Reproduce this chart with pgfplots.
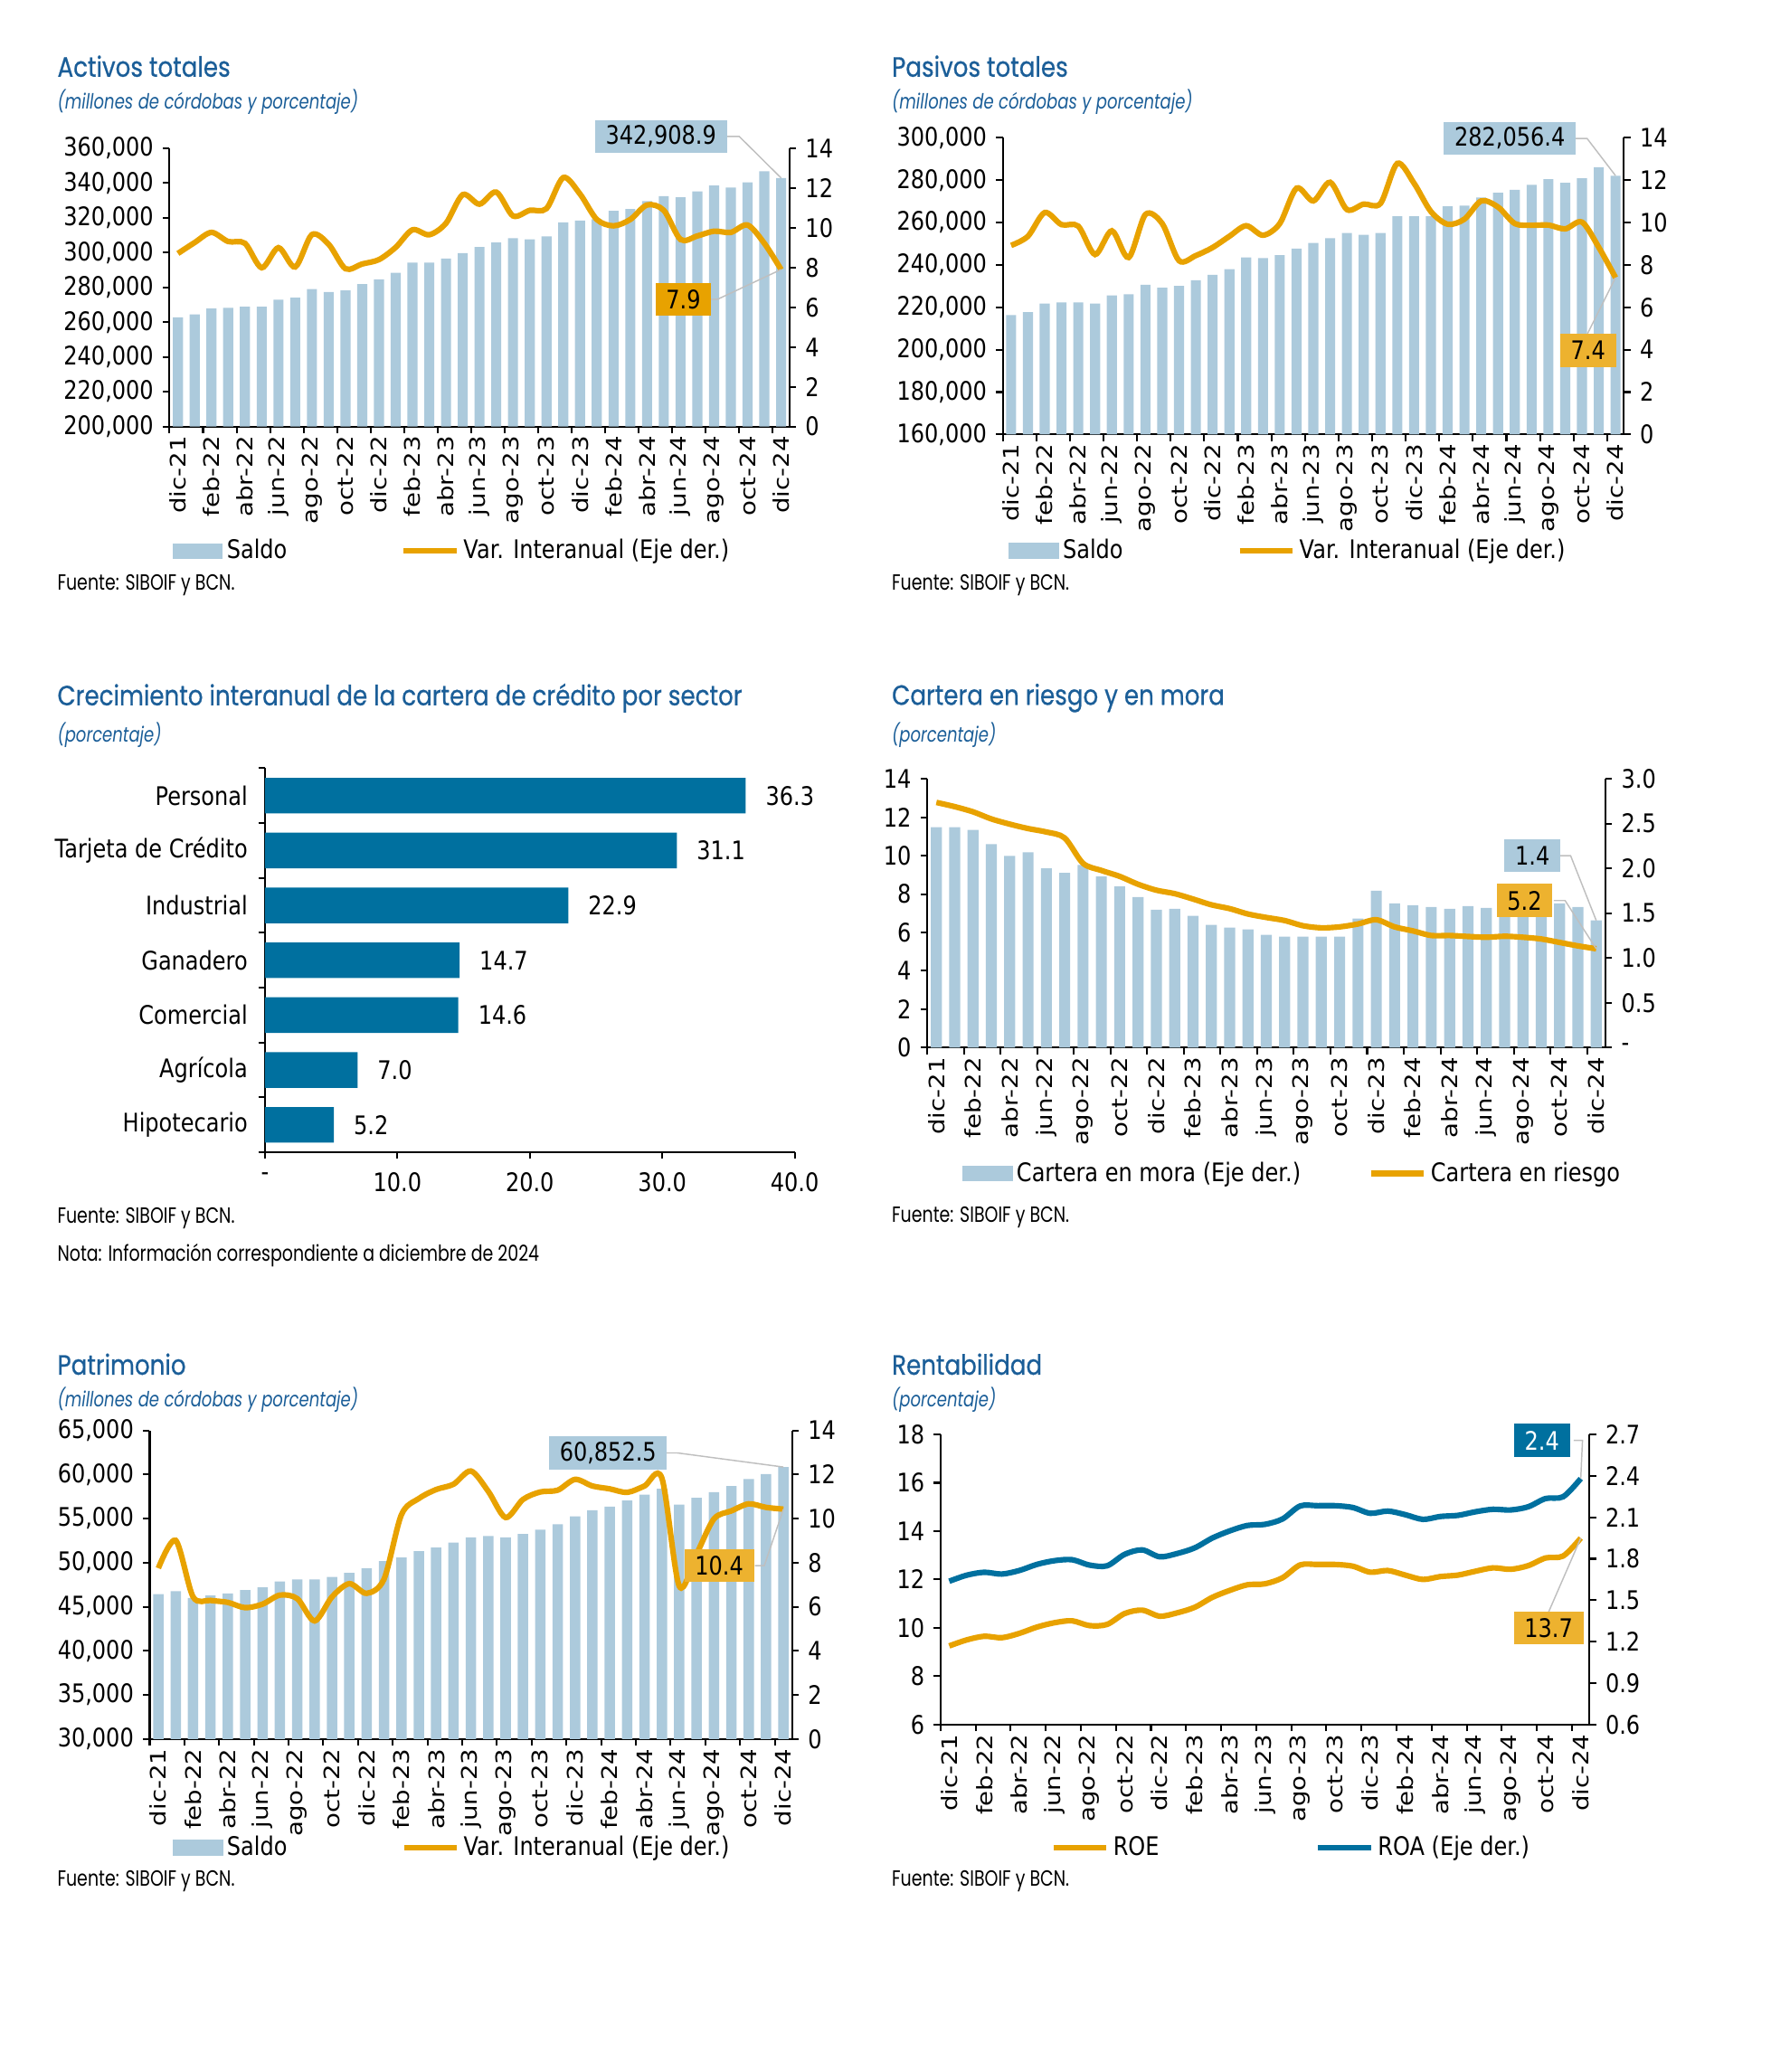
\documentclass[border=0pt]{standalone}
\usepackage{fontspec}
\setmainfont{DejaVu Sans}
\newfontfamily\dvs{DejaVu Sans}[FakeStretch=0.85]
\newfontfamily\dvw{DejaVu Sans}[FakeStretch=1.17]
\newfontfamily\tf{Poppins}[FakeStretch=0.78]
\newfontfamily\tfb{Poppins}[FakeStretch=0.85, FakeBold=0.6]
\usepackage{pgfplots}
\usepackage{pgfplotstable}
\pgfplotsset{compat=1.18}

\definecolor{lblue}{HTML}{ACCADC}
\definecolor{gold}{HTML}{E8A200}
\definecolor{goldbox}{HTML}{EDB22F}
\definecolor{dblue}{HTML}{00709F}
\definecolor{tblue}{HTML}{1B5E98}
\definecolor{lead}{HTML}{BFBFBF}

\newcommand{\tkfont}{\dvs\fontsize{9.65}{11}\selectfont}
\newcommand{\rotfont}{\dvw\fontsize{8.05}{10}\selectfont}
\newcommand{\titfont}{\tfb\fontsize{10.5}{12}\selectfont}
\newcommand{\subfont}{\tf\itshape\fontsize{7.9}{9}\selectfont}
\newcommand{\srcfont}{\tf\fontsize{8.3}{9}\selectfont}

% x, saldo, variacion interanual
\pgfplotstableread{
x s v
0 262800 8.71
1 264500 9.26
2 267800 9.77
3 268200 9.31
4 268900 9.22
5 268900 7.99
6 272900 9.00
7 274100 8.03
8 279000 9.66
9 277300 9.17
10 278300 7.94
11 281900 8.18
12 284600 8.40
13 288400 9.02
14 294300 9.90
15 294300 9.65
16 296600 10.23
17 299700 11.67
18 303300 11.19
19 305800 11.80
20 308300 10.60
21 307700 10.88
22 309400 10.97
23 317400 12.53
24 318400 11.70
25 319300 10.42
26 324100 10.10
27 325100 10.42
28 329600 11.15
29 332500 10.88
30 331900 9.41
31 335200 9.59
32 338600 9.83
33 337500 9.77
34 340500 10.14
35 346800 9.22
36 342908.9 7.90
}\activos

\pgfplotstableread{
x s v
0 216300 8.92
1 217700 9.35
2 221800 10.47
3 222300 9.90
4 222300 9.83
5 221800 8.49
6 225600 9.61
7 226100 8.35
8 230600 10.38
9 229200 9.95
10 230100 8.20
11 232800 8.44
12 235300 8.82
13 238000 9.35
14 243500 9.85
15 243200 9.40
16 244600 9.95
17 247700 11.62
18 250400 11.02
19 252600 11.90
20 255100 10.61
21 254200 10.87
22 255100 10.90
23 263000 12.79
24 263000 11.85
25 263000 10.52
26 267600 9.92
27 268000 10.16
28 271800 11.02
29 274000 10.73
30 275400 9.95
31 277800 9.87
32 280500 9.88
33 278700 9.70
34 280900 10.02
35 286100 8.83
36 282056.4 7.40
}\pasivos

% x, mora (eje der.), riesgo
\pgfplotstableread{
x m r
0 2.46 12.77
1 2.46 12.55
2 2.43 12.28
3 2.27 11.91
4 2.14 11.64
5 2.18 11.41
6 2.00 11.23
7 1.95 10.92
8 2.04 9.60
9 1.91 9.23
10 1.80 8.92
11 1.68 8.51
12 1.54 8.20
13 1.55 8.02
14 1.47 7.74
15 1.37 7.44
16 1.34 7.24
17 1.32 6.96
18 1.26 6.78
19 1.24 6.62
20 1.24 6.35
21 1.24 6.24
22 1.24 6.29
23 1.44 6.44
24 1.75 6.66
25 1.61 6.29
26 1.59 6.08
27 1.57 5.84
28 1.55 5.84
29 1.58 5.79
30 1.56 5.75
31 1.56 5.80
32 1.58 5.75
33 1.58 5.66
34 1.61 5.48
35 1.57 5.30
36 1.42 5.15
}\cartera

\pgfplotstableread{
x s v
0 46440 7.75
1 46770 9.01
2 46000 6.45
3 46280 6.29
4 46520 6.20
5 46890 5.96
6 47210 6.12
7 47860 6.53
8 48110 6.37
9 48110 5.36
10 48390 6.45
11 48840 7.05
12 49370 6.61
13 50180 7.26
14 50590 10.18
15 51320 10.91
16 51720 11.32
17 52290 11.56
18 52860 12.16
19 53020 11.24
20 52860 10.05
21 53260 10.87
22 53750 11.21
23 54360 11.29
24 55250 11.78
25 55940 11.48
26 56350 11.35
27 57040 11.19
28 57730 11.48
29 58380 11.84
30 56590 6.94
31 57370 8.40
32 58010 9.99
33 58700 10.35
34 59480 10.67
35 60040 10.51
36 60852.5 10.43
}\patrimonio

% x, ROE, ROA (eje der.)
\pgfplotstableread{
x roe roa
0 9.25 1.637
1 9.50 1.681
2 9.65 1.702
3 9.59 1.689
4 9.77 1.715
5 10.03 1.759
6 10.21 1.786
7 10.29 1.793
8 10.09 1.754
9 10.14 1.749
10 10.59 1.832
11 10.73 1.864
12 10.48 1.814
13 10.62 1.838
14 10.85 1.879
15 11.26 1.950
16 11.55 2.002
17 11.78 2.041
18 11.82 2.049
19 12.07 2.088
20 12.60 2.182
21 12.62 2.184
22 12.62 2.184
23 12.55 2.171
24 12.30 2.129
25 12.37 2.145
26 12.18 2.119
27 12.00 2.085
28 12.12 2.106
29 12.18 2.114
30 12.34 2.140
31 12.48 2.158
32 12.42 2.153
33 12.57 2.176
34 12.89 2.236
35 12.97 2.249
36 13.71 2.380
}\rentab

\pgfplotsset{
  every axis/.append style={
    scale only axis, anchor=south west,
    font=\tkfont,
    axis line style={black, line width=0.7pt},
    tick style={black, line width=0.7pt},
    tick align=outside,
    major tick length=2.5pt,
    /pgf/number format/assume math mode=true,
  },
  months/.style={
    xmin=-0.5, xmax=36.5,
    xtick={-0.5,1.5,...,35.5}, xticklabels={},
    extra x ticks={0,2,...,36},
    extra x tick labels={dic-21,feb-22,abr-22,jun-22,ago-22,oct-22,dic-22,feb-23,abr-23,jun-23,ago-23,oct-23,dic-23,feb-24,abr-24,jun-24,ago-24,oct-24,dic-24},
    extra x tick style={major tick length=0pt},
    xticklabel style={rotate=90, anchor=east, inner xsep=3.5pt, font=\rotfont},
  },
  big/.style={scaled y ticks=false,
    yticklabel style={/pgf/number format/.cd, fixed, 1000 sep={,}}},
  lft/.style={axis x line*=bottom, axis y line*=left},
  rgt/.style={axis x line=none, axis y line*=right, clip=false},
  barleg/.style={legend image code/.code={\fill[##1] (0pt,-3pt) rectangle (19pt,3pt);}},
  linleg/.style={legend image code/.code={\draw[##1] (0pt,0pt) -- (20pt,0pt);}},
  gline/.style={gold, line width=2.1pt, smooth},
  leg/.style 2 args={legend columns=2, legend cell align=left,
    legend style={draw=none, fill=none, at={#1}, anchor=west, inner sep=0pt, font=\tkfont,
      nodes={inner xsep=1.5pt},
      /tikz/every odd column/.append style={column sep=0pt},
      /tikz/every even column/.append style={column sep=#2}}},
}
\tikzset{
  box/.style={font=\tkfont, inner xsep=4pt, inner ysep=0pt, minimum height=12.5pt, text=black},
  ld/.style={lead, line width=0.5pt},
  txt/.style={anchor=west, inner sep=0pt},
}

\begin{document}
\begin{tikzpicture}
\path (0pt,0pt) rectangle (668.5pt,-782.2pt);

% ---------------- Activos totales
\node[txt, text=tblue, font=\titfont] at (21.5pt,-25pt) {Activos totales};
\node[txt, text=tblue, font=\subfont] at (21.5pt,-38.5pt) {(millones de córdobas y porcentaje)};
\node[txt, font=\srcfont] at (21.5pt,-221pt) {Fuente: SIBOIF y BCN.};
\begin{axis}[at={(64pt,-161pt)}, width=234pt, height=105pt, months, lft, big,
    ymin=200000, ymax=360000, ytick={200000,220000,...,360000},
    leg={(0.004,-0.448)}{41.5pt}]
  \addplot[ybar, bar width=0.6, fill=lblue, draw=none, barleg] table[x=x, y=s] {\activos};
  \addlegendentry{Saldo}
  \addlegendimage{gline, linleg}
  \addlegendentry{Var. Interanual (Eje der.)}
\end{axis}
\begin{axis}[at={(64pt,-161pt)}, width=234pt, height=105pt, rgt,
    xmin=-0.5, xmax=36.5, ymin=0, ymax=14, ytick={0,2,...,14}]
  \addplot[gline] table[x=x, y=v] {\activos};
  \draw[ld] (axis cs:32.7,14.6) -- (axis cs:33.5,14.6) -- (axis cs:36,12.51);
  \draw[ld] (axis cs:31.8,6.4) -- (axis cs:32.2,6.4) -- (axis cs:36,7.9);
  \node[box, fill=lblue] at (axis cs:28.83,14.6) {342,908.9};
  \node[box, fill=gold] at (axis cs:30.17,6.4) {7.9};
\end{axis}

% ---------------- Pasivos totales
\node[txt, text=tblue, font=\titfont] at (336.5pt,-25pt) {Pasivos totales};
\node[txt, text=tblue, font=\subfont] at (336.5pt,-38.5pt) {(millones de córdobas y porcentaje)};
\node[txt, font=\srcfont] at (336.5pt,-221pt) {Fuente: SIBOIF y BCN.};
\begin{axis}[at={(378.5pt,-164pt)}, width=234.5pt, height=112pt, months, lft, big,
    ymin=160000, ymax=300000, ytick={160000,180000,...,300000},
    leg={(0.0085,-0.393)}{41.5pt}]
  \addplot[ybar, bar width=0.6, fill=lblue, draw=none, barleg] table[x=x, y=s] {\pasivos};
  \addlegendentry{Saldo}
  \addlegendimage{gline, linleg}
  \addlegendentry{Var. Interanual (Eje der.)}
\end{axis}
\begin{axis}[at={(378.5pt,-164pt)}, width=234.5pt, height=112pt, rgt,
    xmin=-0.5, xmax=36.5, ymin=0, ymax=14, ytick={0,2,...,14}]
  \addplot[gline] table[x=x, y=v] {\pasivos};
  \draw[ld] (axis cs:33.41,13.97) -- (axis cs:34.3,13.97) -- (axis cs:36,12.21);
  \draw[ld] (axis cs:34.33,4.75) -- (axis cs:36,7.4);
  \node[box, fill=lblue] at (axis cs:29.7,13.97) {282,056.4};
  \node[box, fill=goldbox] at (axis cs:34.36,3.97) {7.4};
\end{axis}

% ---------------- Crecimiento por sector
\node[txt, text=tblue, font=\titfont] at (21.5pt,-263.5pt) {Crecimiento interanual de la cartera de crédito por sector};
\node[txt, text=tblue, font=\subfont] at (21.5pt,-277.5pt) {(porcentaje)};
\node[txt, font=\srcfont] at (21.5pt,-460pt) {Fuente: SIBOIF y BCN.};
\node[txt, font=\srcfont] at (21.5pt,-474pt) {Nota: Información correspondiente a diciembre de 2024};
\begin{axis}[at={(100pt,-435pt)}, width=200pt, height=145pt, lft, clip=false,
    xmin=0, xmax=40, ymin=-0.5, ymax=6.5,
    xtick={0,10,...,40}, xticklabels={-,10.0,20.0,30.0,40.0},
    xticklabel style={yshift=-1.5pt},
    ytick={-0.5,0.5,...,6.5}, yticklabels={},
    extra y ticks={0,...,6},
    extra y tick labels={Hipotecario,Agrícola,Comercial,Ganadero,Industrial,Tarjeta de Crédito,Personal},
    extra y tick style={major tick length=0pt, yticklabel style={xshift=-3pt}},
    nodes near coords={\pgfmathprintnumber[fixed, fixed zerofill, precision=1]{\pgfplotspointmeta}},
    point meta=x, nodes near coords align={horizontal},
    every node near coord/.append style={font=\tkfont, anchor=west, xshift=4pt}]
  \addplot[xbar, bar width=0.65, fill=dblue, draw=none] coordinates {
    (5.2,0) (7.0,1) (14.6,2) (14.7,3) (22.9,4) (31.1,5) (36.3,6)};
\end{axis}

% ---------------- Cartera en riesgo y en mora
\node[txt, text=tblue, font=\titfont] at (336.5pt,-263.5pt) {Cartera en riesgo y en mora};
\node[txt, text=tblue, font=\subfont] at (336.5pt,-277.5pt) {(porcentaje)};
\node[txt, font=\srcfont] at (336.5pt,-459.5pt) {Fuente: SIBOIF y BCN.};
\begin{axis}[at={(350pt,-395.5pt)}, width=256pt, height=101.5pt, months,
    axis x line*=bottom, axis y line*=right,
    ymin=0, ymax=3, ytick={0,0.5,...,3}, yticklabels={-,0.5,1.0,1.5,2.0,2.5,3.0},
    leg={(0.051,-0.468)}{24pt}]
  \addplot[ybar, bar width=0.6, fill=lblue, draw=none, barleg] table[x=x, y=m] {\cartera};
  \addlegendentry{Cartera en mora (Eje der.)}
  \addlegendimage{gline, linleg}
  \addlegendentry{Cartera en riesgo}
\end{axis}
\begin{axis}[at={(350pt,-395.5pt)}, width=256pt, height=101.5pt,
    axis x line=none, axis y line*=left, clip=false,
    xmin=-0.5, xmax=36.5, ymin=0, ymax=14, ytick={0,2,...,14}]
  \addplot[gline] table[x=x, y=r] {\cartera};
  \draw[ld] (axis cs:34.04,10.0) -- (axis cs:34.6,10.0) -- (axis cs:36,6.62);
  \draw[ld] (axis cs:33.68,7.66) -- (axis cs:34.3,7.66) -- (axis cs:36,5.15);
  \node[box, fill=lblue] at (axis cs:32.52,10.0) {1.4};
  \node[box, fill=goldbox] at (axis cs:32.09,7.66) {5.2};
\end{axis}

% ---------------- Patrimonio
\node[txt, text=tblue, font=\titfont] at (21.5pt,-515pt) {Patrimonio};
\node[txt, text=tblue, font=\subfont] at (21.5pt,-528.5pt) {(millones de córdobas y porcentaje)};
\node[txt, font=\srcfont] at (21.5pt,-710pt) {Fuente: SIBOIF y BCN.};
\begin{axis}[at={(56.5pt,-656.5pt)}, width=242.5pt, height=116.5pt, months, lft, big,
    ymin=30000, ymax=65000, ytick={30000,35000,...,65000},
    leg={(0.035,-0.352)}{41.5pt}]
  \addplot[ybar, bar width=0.6, fill=lblue, draw=none, barleg] table[x=x, y=s] {\patrimonio};
  \addlegendentry{Saldo}
  \addlegendimage{gline, linleg}
  \addlegendentry{Var. Interanual (Eje der.)}
\end{axis}
\begin{axis}[at={(56.5pt,-656.5pt)}, width=242.5pt, height=116.5pt, rgt,
    xmin=-0.5, xmax=36.5, ymin=0, ymax=14, ytick={0,2,...,14}]
  \addplot[gline] table[x=x, y=v] {\patrimonio};
  \draw[ld] (axis cs:29.17,12.98) -- (axis cs:29.9,12.98) -- (axis cs:36,12.34);
  \draw[ld] (axis cs:34.36,7.87) -- (axis cs:34.9,7.87) -- (axis cs:36,10.43);
  \node[box, fill=lblue] at (axis cs:25.9,12.98) {60,852.5};
  \node[box, fill=goldbox] at (axis cs:32.3,7.87) {10.4};
\end{axis}

% ---------------- Rentabilidad
\node[txt, text=tblue, font=\titfont] at (336.5pt,-515pt) {Rentabilidad};
\node[txt, text=tblue, font=\subfont] at (336.5pt,-528.5pt) {(porcentaje)};
\node[txt, font=\srcfont] at (336.5pt,-710pt) {Fuente: SIBOIF y BCN.};
\begin{axis}[at={(355pt,-651pt)}, width=245pt, height=109.5pt, months, lft, clip=false,
    ymin=6, ymax=18, ytick={6,8,...,18},
    leg={(0.169,-0.425)}{57.5pt}]
  \addplot[gline, linleg] table[x=x, y=roe] {\rentab};
  \addlegendentry{ROE}
  \addlegendimage{dblue, line width=2.1pt, linleg}
  \addlegendentry{ROA (Eje der.)}
\end{axis}
\begin{axis}[at={(355pt,-651pt)}, width=245pt, height=109.5pt, rgt,
    xmin=-0.5, xmax=36.5, ymin=0.6, ymax=2.7, ytick={0.6,0.9,1.2,1.5,1.8,2.1,2.4,2.7},
    yticklabel style={/pgf/number format/.cd, fixed, fixed zerofill, precision=1}]
  \addplot[dblue, line width=2.1pt, smooth] table[x=x, y=roa] {\rentab};
  \draw[ld] (axis cs:35.6,2.657) -- (axis cs:36.1,2.657) -- (axis cs:36,2.38);
  \draw[ld] (axis cs:34.17,1.415) -- (axis cs:36,1.949);
  \node[box, fill=dblue, text=white] at (axis cs:33.79,2.657) {2.4};
  \node[box, fill=goldbox] at (axis cs:34.17,1.30) {13.7};
\end{axis}
\end{tikzpicture}
\end{document}
